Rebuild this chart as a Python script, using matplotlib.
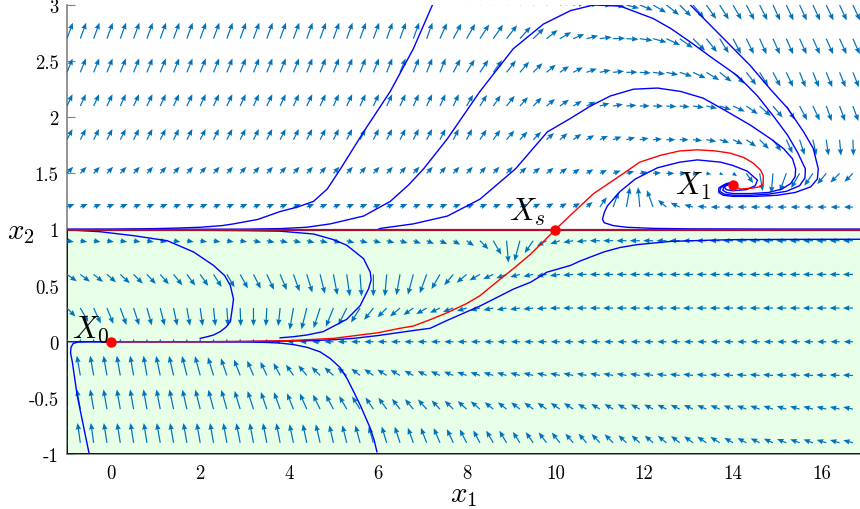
import numpy as np
import matplotlib
matplotlib.use('Agg')
import matplotlib.pyplot as plt
from matplotlib.patches import Rectangle

plt.rcParams['font.family'] = 'cmr10'
plt.rcParams['mathtext.fontset'] = 'cm'
plt.rcParams['axes.unicode_minus'] = False

# ---- direction field ----
# one row per x2 level (top to bottom), 60 columns from x1=-1 in steps of 0.3
# angles in screen degrees, lengths in pixels
row_y = [3.0, 2.7, 2.4, 2.1, 1.8, 1.5, 1.2, 0.9, 0.6, 0.3, 0.0, -0.3, -0.6, -0.9]

ang_y30 = [70]*30 + [60, 55, 50, 45, 40, 32, 25, 18, 10, 5] + \
    [0, -8, -15, -22, -30, -38, -45, -50, -55, -58, -60, -62, -63] + [-65]*7
len_y30 = [17]*36 + [13, 12, 12, 12, 12, 12, 13, 14, 15] + [16, 16] + [17]*13

ang_y27 = [70]*28 + [66, 62, 60, 57, 55, 52, 48, 44, 38, 30, 22, 15] + \
    [8, 2, -3, -8, -15, -25, -35, -45, -52, -58, -62, -64] + [-66]*8
len_y27 = [17]*34 + [16, 15, 14, 13, 12, 12, 12, 12, 12, 13, 14, 15] + [16] + [17]*13

ang_y24 = [68]*29 + [62, 58, 56, 54, 52, 49, 45, 40, 34, 27, 20, 12, 6] + \
    [1, -3, -8, -12, -18, -25, -31, -38, -45, -52, -58, -62, -65] + [-68]*5
len_y24 = [15]*34 + [14, 13, 12, 11, 11, 11, 11, 11, 11, 11, 12, 12, 13, 14] + [15, 15] + [16]*10

ang_y21 = [65]*30 + [60, 58, 55, 52, 48, 45, 40, 35, 30, 25, 16, 10, 5, 1] + \
    [0, -3, -5, -8, -12, -18, -25, -35, -42, -50, -58, -62, -65] + [-70]*3
len_y21 = [13]*34 + [12, 12, 11, 11, 10, 10, 10, 10, 10, 10, 10, 10, 10, 11, 11] + \
    [12, 13, 14, 15, 15] + [16]*6

ang_y18 = [63]*31 + [57, 54, 50, 47, 45, 42, 40, 35, 30, 25, 20, 15, 10, 5] + \
    [0, 0, -5, -10, -17, -25, -35, -45, -55, -65, -72, -78, -82, -85, -88]
len_y18 = [12]*34 + [11, 11, 10, 10, 10, 9, 9, 9, 9, 9, 9, 9, 9, 9, 10, 10] + \
    [11, 12, 13, 14, 15] + [16]*5

ang_y15 = [47]*34 + [42, 40, 38, 36, 35, 30, 25, 20, 15, 10, 5, 0, 0] + \
    [-5, -10, -20, -35, -55, -80, -95, -110, -120, -125, -130, -135, -135]
len_y15 = [9]*38 + [8, 8, 8, 8, 8, 8, 8, 8, 7, 6, 5, 4] + [5, 12, 18, 20, 19, 17, 15, 14, 13, 12]

ang_y12 = [22]*35 + [25, 27, 28, 30, 40, 55, 70, 80, 95, 110, 140, 155, 165, 175] + [180]*11
len_y12 = [8]*40 + [12, 16, 20, 20, 18, 11, 10, 9] + [9]*12

ang_y09 = [-10]*14 + [-12, -12, -13, -13, -14, -14, -15, -15, -15, -15] + \
    [-15, -18, -20, -22, -25, -30, -35, -45, -60, -85, -105, -125, -150, -162, -170, -175, 180, 180] + \
    [180]*18
len_y09 = [7]*14 + [8]*16 + [9, 12, 16, 22, 21, 15, 11, 10, 10] + [10]*21

ang_y06 = [-35, -37, -39, -41, -43, -45, -47, -49, -51, -53] + [-55, -57, -59, -61, -63, -65, -67] + \
    [-70, -73, -76, -79, -82, -86] + \
    [-90, -95, -100, -105, -110, -120, -130, -140, -150, -155, -160, -165, -168, -170, -172, -175] + \
    [180]*21
len_y06 = [12, 12, 12, 12, 13, 13, 13, 13, 14, 14] + [14, 15, 15, 16, 16, 17, 17] + \
    [18, 19, 20, 21, 22, 22, 22, 22, 21, 21] + [20, 17, 14, 13, 12, 11, 11, 10] + [10]*25

ang_y03 = [-45, -60, -65, -68, -70, -72, -74, -76, -78, -80, -82, -84, -86, -88, -90, -93, -96] + \
    [-100, -104, -108, -112, -116, -122, -128, -135, -140, -145, -150, -155, -160, -163, -166,
     -168, -170, -172, -174, -176] + [180]*23
len_y03 = [12, 16, 17, 17] + [18]*13 + [22, 22, 21, 20, 19, 17, 15, 13, 13, 12, 12, 11] + [11] + [10]*30

ang_y00 = [90]*16 + [180]*44
len_y00 = [3]*16 + [5, 6, 7, 8] + [9]*40

ang_ym03 = [100]*7 + [102, 103, 104, 105, 107, 109, 111, 113, 115, 118] + \
    [125, 130, 135, 138, 140, 142, 145, 148, 150, 152, 154, 156, 158, 160] + \
    [162, 163, 164, 165, 166, 167, 168, 168, 169, 169, 170, 170, 171, 171, 172] + \
    [173, 173, 174, 174, 175, 175, 175, 176, 176, 176, 177, 177, 177, 178]
len_ym03 = [20]*11 + [19, 18, 17, 16, 15, 14] + [13, 13, 12, 12, 12, 11, 11, 11, 11, 10] + [10]*33

ang_ym06 = [100]*7 + [101, 102, 103, 104, 105, 106, 107, 108, 109, 110] + \
    [112, 114, 116, 118, 120, 122, 124, 126, 128, 130, 132, 134] + \
    [136, 138, 140, 141, 142, 143, 144, 145, 146, 147, 148, 149] + \
    [150, 151, 152, 153, 154, 155, 156, 157, 158, 159, 160, 161, 162, 163, 164, 165, 166, 167, 168]
len_ym06 = [20]*13 + [19, 19, 18, 18, 17, 17, 16, 16, 15, 15, 14, 14] + \
    [13, 13, 13, 12, 12, 12, 12, 11, 11, 11, 11, 11, 11, 11] + [10]*21

ang_ym09 = [98, 98, 98, 99, 99, 99, 99, 100, 100, 100, 100, 100, 100, 101, 101, 101, 101] + \
    [102, 102, 103, 103, 104, 105, 106, 107, 108, 110, 111, 113, 115] + \
    [117, 118, 120, 121, 123, 125, 127, 128, 130, 131, 133, 135] + \
    [137, 138, 139, 141, 142, 144, 146, 148, 150, 152, 154, 156, 158, 160, 161, 163, 164, 165]
len_ym09 = [20]*17 + [19, 19, 19, 18, 18, 18, 17, 17, 17, 16, 16, 16, 15] + \
    [15, 14, 14, 14, 13, 13, 13, 13, 12, 12, 12, 12] + [11]*8 + [10]*10

# ---- trajectories (x1, x2) ----
traj_a_x = [-1, 0, 1, 1.5, 2, 2.5, 2.75, 3.3, 3.8, 4.19, 4.55, 4.86, 5.16, 5.68, 6.28, 6.8, 7.23]
traj_a_y = [1.002, 1.003, 1.008, 1.013, 1.02, 1.035, 1.05, 1.09, 1.16, 1.2, 1.25, 1.36, 1.54,
            1.87, 2.23, 2.61, 3.0]

traj_b_x = [-1, 1, 3, 3.8, 4.4, 4.93, 5.68, 6.28, 6.7, 7.03, 7.57, 8.3, 9.05, 9.73, 10.34, 10.86,
            11.46, 12.2, 12.6, 13.04, 13.56, 14.1, 14.55, 14.91, 15.23, 15.45, 15.63, 15.62, 15.5,
            15.2, 14.8, 14.4, 14.0, 13.8, 13.7, 13.72, 13.82, 13.95, 14.03]
traj_b_y = [1.001, 1.001, 1.003, 1.008, 1.02, 1.05, 1.12, 1.25, 1.4, 1.54, 1.81, 2.23, 2.61, 2.83,
            2.95, 3.0, 2.99, 2.88, 2.79, 2.67, 2.52, 2.37, 2.19, 2.01, 1.84, 1.69, 1.54, 1.46, 1.39,
            1.34, 1.315, 1.305, 1.305, 1.315, 1.34, 1.37, 1.395, 1.41, 1.40]

traj_c_x = [6.0, 6.06, 6.8, 7.57, 8.3, 9.1, 9.82, 10.34, 10.79, 11.24, 11.76, 12.3, 12.82, 13.33,
            13.87, 14.39, 14.84, 15.14, 15.34, 15.41, 15.4, 15.3, 15.1, 14.8, 14.4, 14.0, 13.85,
            13.77, 13.8, 13.9, 14.03]
traj_c_y = [1.0, 1.01, 1.05, 1.12, 1.27, 1.54, 1.87, 1.99, 2.1, 2.19, 2.25, 2.26, 2.23, 2.17, 2.05,
            1.93, 1.81, 1.72, 1.63, 1.54, 1.47, 1.41, 1.36, 1.33, 1.32, 1.32, 1.33, 1.35, 1.38,
            1.4, 1.405]

traj_t_x = [13.04, 13.49, 13.94, 14.39, 14.84, 15.23, 15.59, 15.81, 15.92, 15.9, 15.75, 15.4, 15.0,
            14.5, 14.0, 13.78, 13.68, 13.68, 13.8, 13.95, 14.03]
traj_t_y = [3.0, 2.82, 2.64, 2.46, 2.25, 2.08, 1.87, 1.72, 1.54, 1.45, 1.38, 1.33, 1.305, 1.295,
            1.295, 1.305, 1.33, 1.37, 1.4, 1.415, 1.405]

traj_j_x = [16.87, 15, 13, 12.2, 11.6, 11.3, 11.1, 11.06, 11.1, 11.17, 11.46, 11.8, 12.3, 12.8, 13.2,
            13.72, 14.0, 14.32, 14.55, 14.5, 14.3, 14.0, 13.85, 13.8, 13.85, 13.95, 14.03]
traj_j_y = [1.004, 1.004, 1.006, 1.01, 1.02, 1.035, 1.06, 1.09, 1.15, 1.21, 1.34, 1.45, 1.55, 1.6,
            1.62, 1.6, 1.57, 1.52, 1.44, 1.39, 1.355, 1.345, 1.355, 1.38, 1.41, 1.415, 1.4]

traj_d_x = [-1, -0.25, 0.5, 1.26, 1.85, 2.3, 2.55, 2.68, 2.75, 2.72, 2.68, 2.58, 2.45, 2.3, 2.16, 2.0]
traj_d_y = [0.997, 0.98, 0.945, 0.9, 0.8, 0.68, 0.59, 0.5, 0.38, 0.29, 0.18, 0.13, 0.09, 0.06, 0.045,
            0.03]

traj_e_x = [-1, 1, 2, 3, 3.8, 4.55, 5.0, 5.3, 5.68, 5.83, 5.85, 5.79, 5.6, 5.3, 4.77, 4.4, 4.1, 3.8]
traj_e_y = [0.997, 0.995, 0.993, 0.99, 0.985, 0.96, 0.91, 0.86, 0.74, 0.62, 0.55, 0.47, 0.32, 0.2,
            0.09, 0.06, 0.045, 0.035]

traj_f_x = [0, -0.5, -0.75, -0.86, -0.91, -0.92, -0.88, -0.77, -0.63, -0.5]
traj_f_y = [0, 0, -0.003, -0.015, -0.05, -0.1, -0.18, -0.48, -0.75, -1.0]

traj_g_x = [-1, 0, 1, 2, 3, 3.5, 3.8, 4.1, 4.41, 4.7, 4.93, 5.15, 5.31, 5.45, 5.61, 5.72, 5.83, 5.92,
            5.98]
traj_g_y = [0, 0, 0, 0, -0.002, -0.006, -0.012, -0.025, -0.05, -0.09, -0.15, -0.23, -0.33, -0.44,
            -0.57, -0.67, -0.77, -0.88, -0.98]

traj_h_x = [0, 2, 3, 4, 4.5, 5, 5.45, 6, 6.8, 7.18, 7.56, 8.31, 9.06, 9.44, 9.81, 10.34, 10.56, 11.09,
            11.46, 11.84, 12.59, 13.5, 14.1, 15.5, 16.87]
traj_h_y = [0, 0, 0.002, 0.006, 0.01, 0.018, 0.03, 0.055, 0.1, 0.12, 0.19, 0.32, 0.47, 0.53, 0.62,
            0.68, 0.72, 0.8, 0.84, 0.865, 0.894, 0.905, 0.91, 0.912, 0.913]

traj_red_x = [0, 1, 2, 3, 4, 5, 5.3, 6, 6.5, 6.8, 7.2, 7.57, 8, 8.3, 8.7, 9.05, 9.44, 9.8, 10,
              10.4, 10.86, 11.46, 11.9, 12.36, 12.8, 13.2, 13.6, 13.94, 14.25, 14.46, 14.62, 14.68,
              14.68, 14.6, 14.46, 14.17, 14.05, 14.0]
traj_red_y = [0, 0, 0, 0.003, 0.01, 0.03, 0.045, 0.08, 0.12, 0.14, 0.2, 0.26, 0.34, 0.41, 0.54, 0.65,
              0.78, 0.92, 1.0, 1.15, 1.32, 1.48, 1.6, 1.66, 1.7, 1.71, 1.7, 1.68, 1.64, 1.59, 1.53,
              1.48, 1.41, 1.38, 1.37, 1.36, 1.38, 1.4]

blue_traj = [(traj_a_x, traj_a_y), (traj_b_x, traj_b_y), (traj_c_x, traj_c_y),
             (traj_t_x, traj_t_y), (traj_j_x, traj_j_y), (traj_d_x, traj_d_y),
             (traj_e_x, traj_e_y), (traj_f_x, traj_f_y), (traj_g_x, traj_g_y),
             (traj_h_x, traj_h_y)]

pt_x = [0, 10, 14]
pt_y = [0, 1, 1.4]
pt_lab = ['$X_0$', '$X_s$', '$X_1$']
switch_level = 1.0

xticks = [0, 2, 4, 6, 8, 10, 12, 14, 16]
yticks = [-1, -0.5, 0, 0.5, 1, 1.5, 2, 2.5, 3]
ytick_labels = ['-1', '-0.5', '0', '0.5', '1', '1.5', '2', '2.5', '3']

xmin, xmax = -1, 16.86
ymin, ymax = -1, 3

fig = plt.figure(figsize=(8.6, 5.1), dpi=100)
ax = fig.add_axes([67/860, 55/510, 793/860, 449/510])
ax.set_xlim(xmin, xmax)
ax.set_ylim(ymin, ymax)

# green region below the switching line
ax.add_patch(Rectangle((xmin, ymin), 30, switch_level - ymin, facecolor='#E6FFE6',
                       edgecolor='black', linewidth=1.3, zorder=1))

# direction field
ang = np.array([ang_y30, ang_y27, ang_y24, ang_y21, ang_y18, ang_y15, ang_y12, ang_y09,
                ang_y06, ang_y03, ang_y00, ang_ym03, ang_ym06, ang_ym09], dtype=float)
lng = np.array([len_y30, len_y27, len_y24, len_y21, len_y18, len_y15, len_y12, len_y09,
                len_y06, len_y03, len_y00, len_ym03, len_ym06, len_ym09], dtype=float)
xq = -1 + 0.3 * np.arange(ang.shape[1])
XX, YY = np.meshgrid(xq, row_y)
ax.quiver(XX, YY, lng, np.zeros_like(lng), angles=ang, scale_units='dots', scale=1,
          units='dots', width=1.2, headwidth=4.5, headlength=5.5, headaxislength=5,
          color='#0072BD', zorder=2)

for tx, ty in blue_traj:
    ax.plot(tx, ty, color='#0000FF', lw=1.0, zorder=3)
ax.plot(traj_red_x, traj_red_y, color='#FF0000', lw=1.0, zorder=4)
ax.plot([xmin, xmax], [switch_level, switch_level], color=(0.635, 0.078, 0.184), lw=1.6, zorder=5)
ax.plot(pt_x, pt_y, 'o', color='#FF0000', ms=6.5, zorder=6)

ax.text(pt_x[0] - 0.06, pt_y[0] - 0.02, pt_lab[0], fontsize=22, ha='right', va='bottom')
ax.text(pt_x[1] - 0.22, pt_y[1] + 0.02, pt_lab[1], fontsize=22, ha='right', va='bottom')
ax.text(pt_x[2] - 0.5, pt_y[2] - 0.15, pt_lab[2], fontsize=22, ha='right', va='bottom')

ax.set_xticks(xticks)
ax.set_xticklabels([str(v) for v in xticks])
ax.set_yticks(yticks)
ax.set_yticklabels(ytick_labels)
ax.set_axisbelow(True)
ax.tick_params(direction='in', length=6, width=0.8, color='#808080', labelsize=13.5)
ax.tick_params(axis='x', pad=7)
ax.tick_params(axis='y', pad=6)
for side in ['top', 'right']:
    ax.spines[side].set_visible(False)
for side in ['left', 'bottom']:
    ax.spines[side].set_color('#808080')
    ax.spines[side].set_linewidth(1.2)
    ax.spines[side].set_zorder(0.4)

ax.set_xlabel('$x_1$', fontsize=21, labelpad=0)
ax.set_ylabel('$x_2$', fontsize=21, rotation=0, va='center', ha='center')
ax.yaxis.set_label_coords(-0.058, 0.495)

fig.savefig('out.png', dpi=100)
